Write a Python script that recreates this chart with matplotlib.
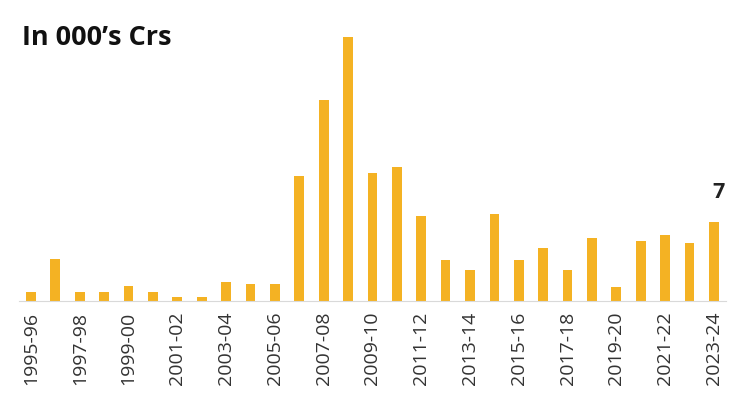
import matplotlib
matplotlib.use("Agg")
import matplotlib.pyplot as plt

years = [f"{y}-{str(y + 1)[-2:]}" for y in range(1995, 2024)]
values = [0.8, 3.7, 0.8, 0.8, 1.3, 0.8, 0.35, 0.35, 1.7, 1.5, 1.5,
          11.1, 17.8, 23.4, 11.3, 11.9, 7.5, 3.6, 2.7, 7.7, 3.6, 4.7,
          2.7, 5.6, 1.2, 5.3, 5.8, 5.1, 7.0]
tick_labels = years[::2]

plt.rcParams['font.family'] = ['Open Sans', 'DejaVu Sans']

fig = plt.figure(figsize=(7.33, 4.10), dpi=100)
ax = fig.add_axes([0.0256, 0.2634, 0.965, 0.689])

x = list(range(len(values)))
ax.bar(x, values, width=0.4, color="#F4B223")
ax.set_xlim(-0.5, len(values) - 0.5)
ax.set_ylim(0, 25)

ax.set_xticks(x[::2])
ax.set_xticklabels(tick_labels, rotation=90, fontsize=14, color="#333333")
ax.tick_params(axis="x", length=0, pad=7)
ax.set_yticks([])

for s in ["top", "right", "left"]:
    ax.spines[s].set_visible(False)
ax.spines["bottom"].set_color("#d9d9d9")
ax.spines["bottom"].set_linewidth(0.8)

ax.text(x[-1] + 0.2, values[-1] + 1.8, f"{values[-1]:g}", ha="center", va="bottom",
        fontsize=15.5, fontweight="bold", color="#222222")

fig.text(0.03, 0.875, "In 000\u2019s Crs", fontsize=19.5, fontweight="bold",
         color="#111111", ha="left", va="bottom")

fig.savefig("out.png", dpi=100)
